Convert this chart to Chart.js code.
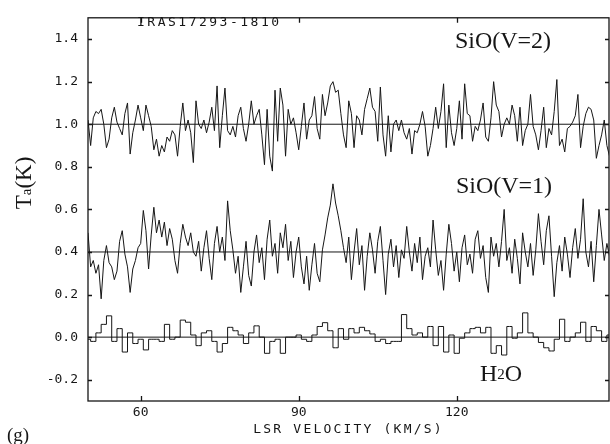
<!DOCTYPE html>
<html>
<head>
<meta charset="utf-8">
<script src="https://cdn.jsdelivr.net/npm/chart.js@4.4.1/dist/chart.umd.min.js"></script>
<style>
  html, body { margin: 0; padding: 0; background: #fff; }
  #wrap { width: 610px; height: 444px; }
</style>
</head>
<body>
<div id="wrap"><canvas id="chart01" width="610" height="444"></canvas></div>
<script>
// channel grid (km/s)
var velStart = 50
var sioStep = 0.5
var h2oStep = 1.0

// SiO(V=2), 50.0 .. 149.5 km/s, one row = 5 km/s
var sio2Vals = [
  1.02, 0.90, 1.03, 1.06, 1.05, 1.07, 1.00, 0.89, 0.93, 1.03,
  1.08, 1.01, 0.98, 0.95, 1.05, 1.10, 0.86, 0.96, 1.02, 1.09,
  1.03, 0.97, 1.09, 1.04, 0.99, 0.88, 0.93, 0.85, 0.90, 0.87,
  0.94, 0.92, 0.97, 0.95, 0.85, 0.99, 1.10, 0.97, 1.02, 0.96,
  0.82, 1.11, 1.00, 0.98, 1.02, 0.96, 1.01, 1.08, 0.97, 1.18,
  0.89, 1.04, 1.17, 0.97, 0.95, 0.99, 0.94, 1.04, 1.08, 0.98,
  0.92, 1.00, 1.11, 1.00, 1.04, 1.07, 0.95, 0.81, 1.07, 0.85,
  0.78, 1.16, 0.92, 1.17, 1.09, 0.85, 1.07, 1.00, 1.03, 0.96,
  0.88, 0.99, 1.10, 0.93, 1.02, 1.04, 1.13, 0.98, 0.93, 1.14,
  1.04, 1.10, 1.18, 1.20, 1.15, 1.16, 1.05, 0.95, 0.89, 1.11,
  1.05, 0.89, 1.04, 1.02, 0.95, 1.07, 1.12, 1.17, 1.08, 1.06,
  0.92, 1.175, 0.95, 0.85, 1.04, 0.87, 1.00, 1.02, 0.97, 1.02,
  0.96, 0.93, 0.98, 0.86, 0.97, 0.96, 1.00, 1.06, 0.99, 0.85,
  0.90, 0.98, 1.08, 0.98, 1.06, 1.19, 0.89, 1.09, 0.96, 0.90,
  0.98, 1.11, 0.93, 1.19, 1.05, 1.04, 0.92, 0.99, 0.97, 1.02,
  1.10, 0.94, 0.92, 1.03, 1.20, 1.09, 1.06, 0.94, 1.00, 1.03,
  1.00, 1.09, 1.04, 0.92, 1.08, 0.90, 0.97, 1.00, 1.14, 0.99,
  0.95, 0.88, 0.97, 1.08, 0.89, 0.98, 0.95, 1.06, 1.21, 0.90,
  0.93, 0.87, 0.98, 0.99, 1.01, 1.04, 1.14, 0.89, 0.99, 1.05,
  1.08, 1.07, 1.02, 0.84, 0.90, 0.95, 1.02, 0.90, 0.85, 0.88
]

// SiO(V=1), same channels
var sio1Vals = [
  0.49, 0.33, 0.36, 0.30, 0.34, 0.18, 0.36, 0.43, 0.35, 0.33,
  0.27, 0.31, 0.45, 0.50, 0.39, 0.33, 0.21, 0.32, 0.36, 0.42,
  0.44, 0.595, 0.50, 0.32, 0.48, 0.61, 0.49, 0.55, 0.47, 0.54,
  0.43, 0.51, 0.46, 0.36, 0.30, 0.44, 0.53, 0.47, 0.43, 0.49,
  0.40, 0.38, 0.45, 0.31, 0.42, 0.50, 0.37, 0.27, 0.44, 0.52,
  0.40, 0.47, 0.36, 0.64, 0.50, 0.41, 0.30, 0.38, 0.21, 0.33,
  0.45, 0.29, 0.24, 0.40, 0.48, 0.35, 0.42, 0.27, 0.46, 0.55,
  0.38, 0.44, 0.30, 0.49, 0.42, 0.53, 0.36, 0.45, 0.28, 0.40,
  0.47, 0.33, 0.25, 0.38, 0.22, 0.34, 0.44, 0.30, 0.26, 0.41,
  0.48, 0.56, 0.62, 0.72, 0.63, 0.57, 0.50, 0.42, 0.35, 0.47,
  0.27, 0.40, 0.51, 0.34, 0.43, 0.22, 0.38, 0.49, 0.41, 0.30,
  0.45, 0.52, 0.36, 0.20, 0.39, 0.46, 0.33, 0.43, 0.28, 0.41,
  0.37, 0.52, 0.40, 0.31, 0.44, 0.35, 0.47, 0.27, 0.38, 0.42,
  0.33, 0.55, 0.41, 0.29, 0.36, 0.22, 0.39, 0.53, 0.44, 0.31,
  0.40, 0.26, 0.42, 0.48, 0.34, 0.39, 0.30, 0.46, 0.50, 0.37,
  0.43, 0.28, 0.21, 0.47, 0.38, 0.44, 0.33, 0.45, 0.60, 0.36,
  0.42, 0.30, 0.46, 0.37, 0.25, 0.49, 0.40, 0.33, 0.44, 0.29,
  0.41, 0.58, 0.45, 0.34, 0.50, 0.57, 0.38, 0.19, 0.35, 0.43,
  0.31, 0.47, 0.39, 0.28, 0.42, 0.51, 0.37, 0.46, 0.65, 0.40,
  0.33, 0.45, 0.26, 0.43, 0.60, 0.48, 0.36, 0.44, 0.38, 0.41
]

// H2O, 50 .. 149 km/s, one row = 10 km/s
var h2oVals = [
  -0.01, -0.02, 0.02, 0.06, 0.10, -0.02, 0.04, -0.07, 0.02, -0.03,
  -0.01, -0.06, -0.01, -0.01, -0.02, 0.06, -0.01, 0.00, 0.08, 0.07,
  0.01, -0.04, 0.02, 0.03, -0.02, -0.07, -0.03, 0.046, 0.03, 0.01,
  -0.03, 0.02, 0.053, 0.00, -0.076, -0.02, -0.01, -0.076, 0.00, 0.00,
  0.01, -0.01, -0.02, 0.01, 0.05, 0.068, 0.03, -0.05, 0.04, -0.01,
  0.04, 0.02, 0.046, 0.03, 0.015, -0.02, -0.01, -0.03, -0.02, -0.02,
  0.106, 0.04, 0.01, 0.02, 0.00, 0.05, -0.04, 0.05, -0.07, 0.01,
  -0.076, -0.005, 0.02, 0.04, 0.046, 0.02, 0.046, -0.076, -0.04, -0.084,
  0.05, -0.005, 0.02, 0.114, 0.02, 0.00, -0.025, -0.05, -0.065, -0.01,
  0.084, -0.02, 0.00, 0.02, 0.07, -0.02, 0.05, 0.03, -0.02, 0.01
]

var baseLevels = [1.0, 0.4, 0.0]
var xTicks = [60, 90, 120]
var yTicks = [-0.2, 0.0, 0.2, 0.4, 0.6, 0.8, 1.0, 1.2, 1.4]
var xRange = [50, 148.9]
var yRange = [-0.3, 1.5]
var sourceName = 'IRAS17293-1810'
var xTitle = 'LSR VELOCITY (KM/S)'
var panelTag = '(g)'

var INK = '#161616'
var MONO = '"DejaVu Sans Mono", monospace'
var SERIF = '"Liberation Serif", "DejaVu Serif", serif'

function toPoints (vals, step) {
  return vals.map(function (v, i) {
    return { x: velStart + i * step, y: v }
  })
}

function traceSet (label, pts, stepped) {
  return {
    label: label,
    data: pts,
    borderColor: INK,
    borderWidth: 1,
    pointRadius: 0,
    tension: 0,
    stepped: stepped || false
  }
}

var datasets = [
  traceSet('SiO(V=2)', toPoints(sio2Vals, sioStep)),
  traceSet('SiO(V=1)', toPoints(sio1Vals, sioStep)),
  traceSet('H2O', toPoints(h2oVals, h2oStep), 'middle')
]
baseLevels.forEach(function (b) {
  datasets.push(traceSet('base', [{ x: xRange[0], y: b }, { x: xRange[1], y: b }]))
})

// frame with inward ticks + the labels of the old plot
var framePlugin = {
  id: 'frame',
  afterDraw: function (chart) {
    var ctx = chart.ctx
    var a = chart.chartArea
    var xs = chart.scales.x
    var ys = chart.scales.y
    ctx.save()
    ctx.strokeStyle = INK
    ctx.lineWidth = 1.3
    ctx.strokeRect(a.left, a.top, a.right - a.left, a.bottom - a.top)
    ctx.beginPath()
    yTicks.forEach(function (v) {
      var py = Math.round(ys.getPixelForValue(v)) + 0.5
      ctx.moveTo(a.left, py); ctx.lineTo(a.left + 4, py)
      ctx.moveTo(a.right, py); ctx.lineTo(a.right - 4, py)
    })
    xTicks.forEach(function (v) {
      var px = Math.round(xs.getPixelForValue(v)) + 0.5
      ctx.moveTo(px, a.bottom); ctx.lineTo(px, a.bottom - 5)
      ctx.moveTo(px, a.top); ctx.lineTo(px, a.top + 5)
    })
    ctx.stroke()

    ctx.fillStyle = INK
    ctx.textBaseline = 'middle'

    // source name, plotter style
    ctx.font = '13px ' + MONO
    ctx.letterSpacing = '2.5px'
    ctx.textAlign = 'left'
    ctx.fillText(sourceName, 137, 23)

    // x title
    ctx.letterSpacing = '2.2px'
    ctx.textAlign = 'center'
    ctx.fillText(xTitle, (a.left + a.right) / 2, 430)
    ctx.letterSpacing = '0px'

    // line names
    ctx.font = '24px ' + SERIF
    ctx.fillText('SiO(V=2)', 503, 42)
    ctx.fillText('SiO(V=1)', 504, 187)
    drawSub(ctx, ['H', '2', 'O'], 501, 375, 24, 15, 0)

    // y title, rotated
    ctx.save()
    ctx.translate(25, 183)
    ctx.rotate(-Math.PI / 2)
    drawSub(ctx, ['T', 'a', '(K)'], 0, 0, 23, 15, 2)
    ctx.restore()

    // panel tag
    ctx.font = '19px ' + SERIF
    ctx.textAlign = 'left'
    ctx.fillText(panelTag, 7, 436)
    ctx.restore()
  }
}

// text with a smaller middle part (subscript style), centred on cx
function drawSub (ctx, parts, cx, cy, big, small, drop) {
  ctx.font = big + 'px ' + SERIF
  var w0 = ctx.measureText(parts[0]).width
  var w2 = ctx.measureText(parts[2]).width
  ctx.font = small + 'px ' + SERIF
  var w1 = ctx.measureText(parts[1]).width
  var x = cx - (w0 + w1 + w2) / 2
  ctx.textAlign = 'left'
  ctx.font = big + 'px ' + SERIF
  ctx.fillText(parts[0], x, cy)
  ctx.font = small + 'px ' + SERIF
  ctx.fillText(parts[1], x + w0, cy + drop)
  ctx.font = big + 'px ' + SERIF
  ctx.fillText(parts[2], x + w0 + w1, cy)
  ctx.textAlign = 'center'
}

var ctx = document.getElementById('chart01').getContext('2d')
var chart = new Chart(ctx, {
  type: 'line',
  data: { datasets: datasets },
  options: {
    responsive: false,
    animation: false,
    layout: { padding: { top: 5, right: 1, left: 0, bottom: 0 } },
    plugins: { legend: { display: false }, tooltip: { enabled: false } },
    scales: {
      x: {
        type: 'linear',
        min: xRange[0],
        max: xRange[1],
        grid: { display: false, drawTicks: false },
        border: { display: false },
        afterFit: function (s) { s.height = 43 },
        afterBuildTicks: function (s) {
          s.ticks = xTicks.map(function (v) { return { value: v } })
        },
        ticks: {
          padding: 4,
          color: INK,
          maxRotation: 0,
          font: { family: MONO, size: 13 },
          callback: function (v) { return String(v) }
        }
      },
      y: {
        min: yRange[0],
        max: yRange[1],
        grid: { display: false, drawTicks: false },
        border: { display: false },
        afterFit: function (s) { s.width = 88 },
        afterBuildTicks: function (s) {
          s.ticks = yTicks.map(function (v) { return { value: v } })
        },
        ticks: {
          padding: 10,
          color: INK,
          font: { family: MONO, size: 13 },
          callback: function (v) { return Number(v).toFixed(1) }
        }
      }
    }
  },
  plugins: [framePlugin]
})
</script>
</body>
</html>
